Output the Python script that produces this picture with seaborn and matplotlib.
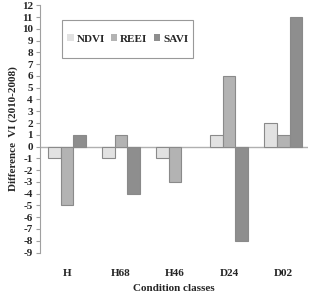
import pandas as pd
import matplotlib
matplotlib.use('Agg')
import matplotlib.pyplot as plt
from matplotlib.patches import Rectangle
import seaborn as sns

# values
classes = ['H', 'H68', 'H46', 'D24', 'D02']
ndvi = [-1, -1, -1, 1, 2]
reei = [-5, 1, -3, 6, 1]
savi = [1, -4, 0, -8, 11]
yticks = list(range(-9, 13))

df = pd.DataFrame({'cls': classes, 'NDVI': ndvi, 'REEI': reei, 'SAVI': savi})
df = df.melt(id_vars='cls', var_name='index', value_name='diff')

sns.set_style('white')
plt.rcParams['font.family'] = ['Liberation Serif', 'DejaVu Serif']
plt.rcParams['font.weight'] = 'bold'

fig = plt.figure(figsize=(3.09, 2.94), dpi=100)
ax = fig.add_axes([0.129, 0.141, 0.868, 0.841])

pal = {'NDVI': '#e2e2e2', 'REEI': '#b3b3b3', 'SAVI': '#8e8e8e'}
sns.barplot(data=df, x='cls', y='diff', hue='index', palette=pal, width=0.7,
            edgecolor='#8a8a8a', linewidth=0.8, saturation=1, ax=ax)
# zero-height bars leave no visible mark in the original
for p in ax.patches:
    if p.get_height() == 0:
        p.set_linewidth(0)

ax.axhline(0, color='#b0b0b0', linewidth=1, zorder=0)
ax.set_ylim(-9, 12)
ax.set_yticks(yticks)
ax.set_yticklabels([str(v) for v in yticks], fontsize=8, fontweight='bold')
ax.set_xticks(range(len(classes)))
ax.set_xticklabels(classes, fontsize=8, fontweight='bold')
ax.tick_params(axis='x', length=0, pad=11.5)
ax.tick_params(axis='y', length=3, width=0.8, color='#a0a0a0', pad=2, left=True)
ax.set_xlim(-0.5, 4.46)

for s in ['top', 'right', 'bottom']:
    ax.spines[s].set_visible(False)
ax.spines['left'].set_color('#a0a0a0')
ax.spines['left'].set_linewidth(0.8)

ax.set_xlabel('Condition classes', fontsize=8, fontweight='bold', labelpad=5)
ax.set_ylabel('Difference  VI (2010-2008)', fontsize=8, fontweight='bold', labelpad=3)

leg = ax.legend(loc='center', bbox_to_anchor=(0.4126, 0.867),
                bbox_transform=fig.transFigure, ncol=3, frameon=False,
                handlelength=0.6, handleheight=0.6, handletextpad=0.25,
                columnspacing=0.55, prop={'weight': 'bold', 'size': 8})
fig.patches.append(Rectangle((0.2006, 0.8027), 0.424, 0.129, transform=fig.transFigure,
                             fill=False, edgecolor='#999999', linewidth=0.8))

fig.savefig('out.png', dpi=100)
